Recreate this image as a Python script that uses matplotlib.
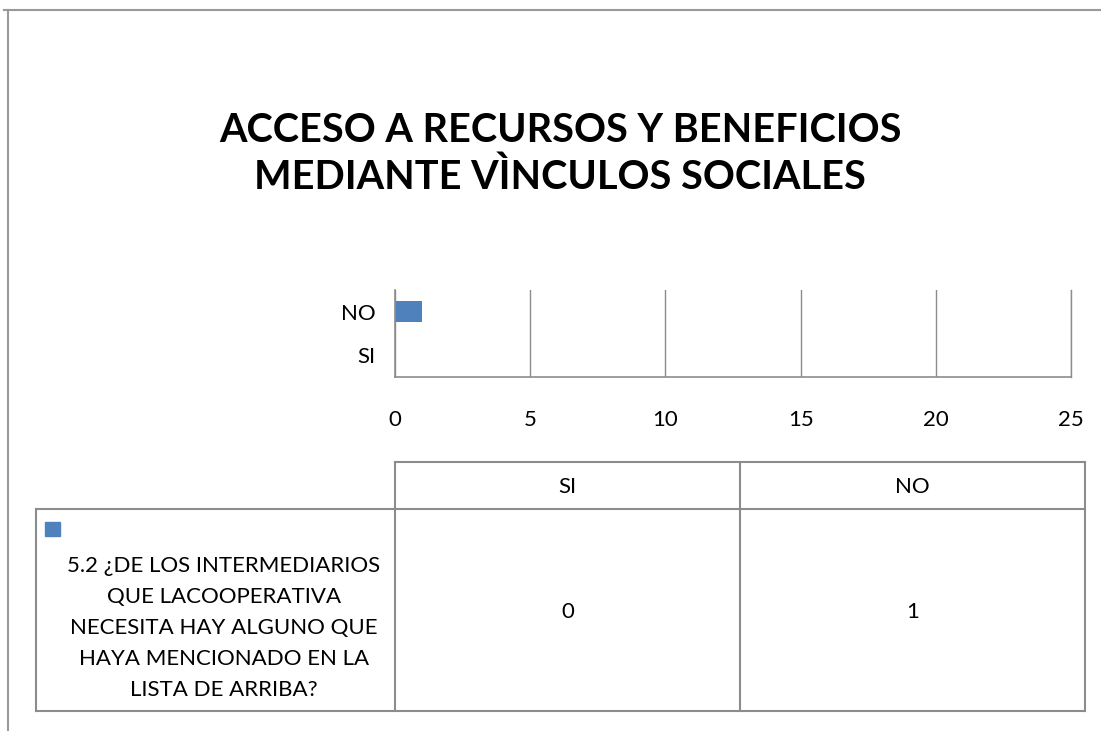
import matplotlib.pyplot as plt
from matplotlib.patches import Rectangle

categorias = ['SI', 'NO']
valores = [0, 1]
pregunta = ('5.2 ¿DE LOS INTERMEDIARIOS\nQUE LACOOPERATIVA\nNECESITA HAY ALGUNO QUE\n'
            'HAYA MENCIONADO EN LA\nLISTA DE ARRIBA?')
titulo = 'ACCESO A RECURSOS Y BENEFICIOS\nMEDIANTE VÌNCULOS SOCIALES'

W, H = 1101, 731
AZUL = '#4F81BD'
GRIS = '#8C8C8C'
plt.rcParams['font.family'] = ['Lato', 'DejaVu Sans']


def fx(x):
    return x / W


def fy(y):
    return 1 - y / H


fig = plt.figure(figsize=(W / 100, H / 100), dpi=100)

# marco exterior
fig.add_artist(plt.Line2D([fx(4), 1], [fy(10), fy(10)], color='#999999', lw=1.5))
fig.add_artist(plt.Line2D([fx(8), fx(8)], [fy(10), 0], color='#999999', lw=1.5))

fig.text(fx(560), fy(154), titulo, ha='center', va='center', fontsize=28.5,
         fontweight='bold', linespacing=1.28)

# grafico de barras
ax = fig.add_axes([fx(395), fy(377), fx(1071) - fx(395), (377 - 290) / H])
ax.barh(range(len(categorias)), valores, height=0.48, color=AZUL)
ax.set_xlim(0, 25)
ax.set_ylim(-0.5, 1.5)
ax.set_xticks(range(0, 26, 5))
ax.set_yticks(range(len(categorias)))
ax.set_yticklabels(categorias)
ax.xaxis.grid(True, color=GRIS, lw=1)
ax.set_axisbelow(True)
ax.spines['top'].set_visible(False)
for s in ['left', 'bottom', 'right']:
    ax.spines[s].set_color(GRIS)
    ax.spines[s].set_linewidth(1.2)
ax.spines['right'].set_linewidth(1)
ax.tick_params(length=0, labelsize=16)
ax.tick_params(axis='x', pad=24)
ax.tick_params(axis='y', pad=14)

# tabla de datos
lc = dict(color=GRIS, lw=1.5)
xs = [395, 740, 1085]
fig.add_artist(plt.Line2D([fx(395), fx(1085)], [fy(462), fy(462)], **lc))
fig.add_artist(plt.Line2D([fx(36), fx(1085)], [fy(509), fy(509)], **lc))
fig.add_artist(plt.Line2D([fx(36), fx(1085)], [fy(711), fy(711)], **lc))
fig.add_artist(plt.Line2D([fx(36), fx(36)], [fy(509), fy(711)], **lc))
for x in xs:
    fig.add_artist(plt.Line2D([fx(x), fx(x)], [fy(462), fy(711)], **lc))

for i, c in enumerate(categorias):
    cx = (xs[i] + xs[i + 1]) / 2
    fig.text(fx(cx), fy(487), c, ha='center', va='center', fontsize=16)
    fig.text(fx(cx), fy(612), str(valores[i]), ha='center', va='center', fontsize=16)

fig.add_artist(Rectangle((fx(45), fy(536)), fx(15), 14 / H, color=AZUL))
fig.text(fx(224), fy(628), pregunta, ha='center', va='center', fontsize=16,
         linespacing=1.7)

fig.savefig('out.png', dpi=100)
